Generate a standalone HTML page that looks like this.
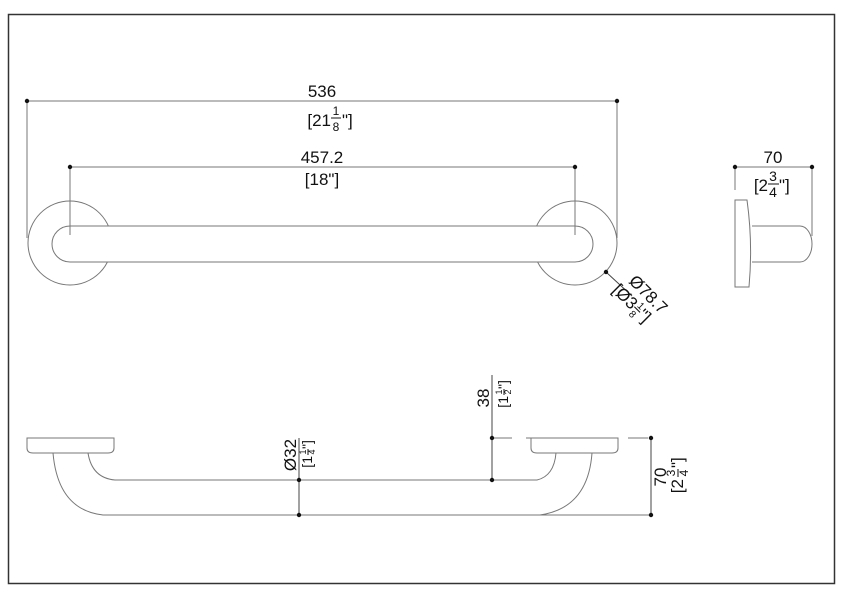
<!DOCTYPE html>
<html><head><style>html,body{margin:0;padding:0;background:#fff}svg{display:block}text{font-family:"Liberation Sans",sans-serif;fill:#111}</style></head><body>
<svg width="850" height="592" viewBox="0 0 850 592" xmlns="http://www.w3.org/2000/svg">
<rect x="0" y="0" width="850" height="592" fill="#fff"/>
<rect x="8.5" y="14.5" width="826" height="569" fill="none" stroke="#333" stroke-width="1.5"/>
<g fill="none" stroke="#777" stroke-width="1">
<circle cx="70" cy="243" r="42"/>
<circle cx="575" cy="243" r="42"/>
<path d="M70 226 H575 A18 18 0 0 1 575 262 H70 A18 18 0 0 1 70 226 Z" fill="#fff"/>
<line x1="27" y1="101" x2="617" y2="101"/>
<line x1="27" y1="101" x2="27" y2="238"/>
<line x1="617" y1="101" x2="617" y2="238"/>
<line x1="70" y1="167" x2="575" y2="167"/>
<line x1="70" y1="167" x2="70" y2="235"/>
<line x1="575" y1="167" x2="575" y2="235"/>
<line x1="606" y1="272" x2="632" y2="296" stroke="#444"/>
<path d="M735 200 H747 Q753 243 749 287 H735 Z"/>
<path d="M752 226 H800 A12 18 0 0 1 800 262 H752"/>
<line x1="735" y1="167" x2="812" y2="167"/>
<line x1="735" y1="167" x2="735" y2="190"/>
<line x1="812" y1="167" x2="812" y2="236"/>
<path d="M27 438 H114 V448 Q114 453 108 453 H33 Q27 453 27 448 Z"/>
<path d="M531 438 H618 V448 Q618 453 612 453 H537 Q531 453 531 448 Z"/>
<path d="M53 453 Q58 510 103 515 H540 Q588 508 592 453"/>
<path d="M88 453 Q92 478 115 480 H537 Q554 476 556 453"/>
<line x1="492" y1="375" x2="492" y2="480" stroke="#444"/>
<line x1="299" y1="438" x2="299" y2="515" stroke="#444"/>
<line x1="492" y1="438" x2="651" y2="438" stroke-dasharray="20 14"/>
<line x1="540" y1="515" x2="651" y2="515"/>
<line x1="651" y1="438" x2="651" y2="515" stroke="#444"/>
</g>
<g fill="#111">
<circle cx="27" cy="101" r="2.2"/><circle cx="617" cy="101" r="2.2"/>
<circle cx="70" cy="167" r="2.2"/><circle cx="575" cy="167" r="2.2"/>
<circle cx="606" cy="272" r="2.2"/>
<circle cx="735" cy="167" r="2.2"/><circle cx="812" cy="167" r="2.2"/>
<circle cx="492" cy="438" r="2.2"/><circle cx="492" cy="480" r="2.2"/>
<circle cx="299" cy="480" r="2.2"/><circle cx="299" cy="515" r="2.2"/>
<circle cx="651" cy="438" r="2.2"/><circle cx="651" cy="515" r="2.2"/>
</g>
<g font-size="17" stroke="#111" stroke-width="1">
</g>
<g font-size="17">
<text x="322" y="97" text-anchor="middle">536</text>
<text x="331" y="126" text-anchor="end">[21</text>
<text x="336" y="115" font-size="12" text-anchor="middle">1</text>
<line x1="331" y1="118" x2="341" y2="118" stroke="#111"/>
<text x="336" y="131" font-size="12" text-anchor="middle">8</text>
<text x="342" y="126">"]</text>

<text x="322" y="163" text-anchor="middle">457.2</text>
<text x="322" y="185" text-anchor="middle">[18"]</text>

<text x="773" y="163" text-anchor="middle">70</text>
<text x="768" y="191" text-anchor="end">[2</text>
<text x="773" y="181" font-size="14" text-anchor="middle">3</text>
<line x1="768" y1="184" x2="779" y2="184" stroke="#111"/>
<text x="773" y="197" font-size="14" text-anchor="middle">4</text>
<text x="779" y="191">"]</text>

<g transform="translate(628,282) rotate(45)">
<text x="0" y="0">Ø78.7</text>
<text x="22" y="18" text-anchor="end">[Ø3</text>
<text x="26" y="11" font-size="10" text-anchor="middle">1</text>
<line x1="22" y1="13" x2="30" y2="13" stroke="#111"/>
<text x="26" y="23" font-size="10" text-anchor="middle">8</text>
<text x="30" y="18">"]</text>
</g>

<g transform="translate(299,455) rotate(-90)">
<text x="0" y="-3" text-anchor="middle">Ø32</text>
<text x="-1" y="13" font-size="14" text-anchor="end">[1</text>
<text x="3" y="7" font-size="9" text-anchor="middle">1</text>
<line x1="0" y1="9" x2="6" y2="9" stroke="#111"/>
<text x="3" y="16" font-size="9" text-anchor="middle">4</text>
<text x="6" y="13" font-size="14">"]</text>
</g>

<g transform="translate(492,395) rotate(-90)">
<text x="-3" y="-3" text-anchor="middle">38</text>
<text x="-1" y="16" font-size="14" text-anchor="end">[1</text>
<text x="3" y="10" font-size="9" text-anchor="middle">1</text>
<line x1="0" y1="12" x2="6" y2="12" stroke="#111"/>
<text x="3" y="19" font-size="9" text-anchor="middle">2</text>
<text x="6" y="16" font-size="14">"]</text>
</g>

<g transform="translate(660,477) rotate(-90)">
<text x="0" y="6" text-anchor="middle">70</text>
<text x="-2" y="23" text-anchor="end">[2</text>
<text x="4" y="15" font-size="12" text-anchor="middle">3</text>
<line x1="0" y1="18" x2="8" y2="18" stroke="#111"/>
<text x="4" y="28" font-size="12" text-anchor="middle">4</text>
<text x="9" y="23">"]</text>
</g>
</g>
</svg>
</body></html>
